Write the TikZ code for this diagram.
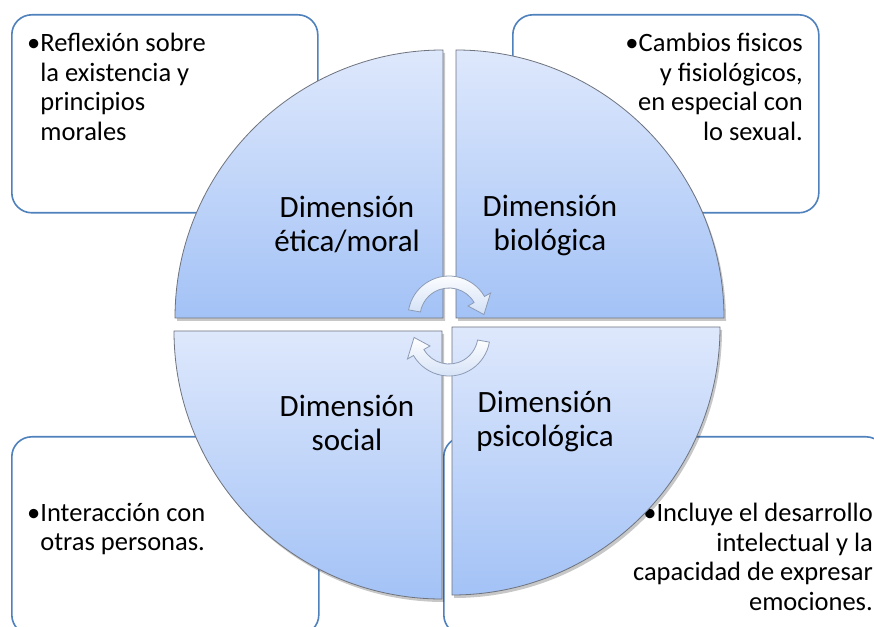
\documentclass[tikz,border=0pt]{standalone}
\usepackage{fontspec}
\setmainfont{Carlito}
\usepackage{tikz}
\usetikzlibrary{positioning, calc}
\definecolor{boxline}{RGB}{79,129,189}
\definecolor{quadtop}{RGB}{222,232,252}
\definecolor{quadbottom}{RGB}{163,194,246}
\definecolor{quadline}{RGB}{110,115,125}
\definecolor{arrowfill}{RGB}{210,224,246}
\definecolor{arrowline}{RGB}{140,155,180}
\tikzset{
    infobox/.style={
        rectangle,
        draw=boxline,
        line width=1.6pt,
        rounded corners=20pt,
        fill=white,
        inner sep=0pt
    },
    boxtext/.style={
        font=\fontsize{26.5}{29.5}\selectfont,
        inner sep=0pt
    },
    dimlabel/.style={
        font=\fontsize{31}{34}\selectfont,
        align=center,
        inner sep=0pt
    },
    quadrant/.style={
        top color=quadtop,
        bottom color=quadbottom,
        draw=quadline,
        line width=0.8pt
    },
    quadshadow/.style={
        fill=black,
        opacity=0.22
    },
    cyclearrow/.style={
        top color=white,
        bottom color=arrowfill,
        draw=arrowline,
        line width=0.8pt
    }
}

\begin{document}
\begin{tikzpicture}[x=1pt, y=1pt]

\clip (0,0) rectangle (874,626);
\fill[white] (0,0) rectangle (874,626);

% Boxes
\node[infobox, anchor=north west, minimum width=306pt, minimum height=198pt] (ethbox) at (11,612) {};
\node[infobox, anchor=north west, minimum width=306pt, minimum height=198pt] (biobox) at (512,612) {};
\node[infobox, anchor=north west, minimum width=307pt, minimum height=198pt] (socbox) at (11,190) {};
\node[infobox, anchor=north west, minimum width=442pt, minimum height=198pt] (psibox) at (443,190) {};

% Box texts
\node[boxtext, align=left, anchor=north west] (ethtext) at (27,593)
    {•Reflexión sobre\\\phantom{•}la existencia y\\\phantom{•}principios\\\phantom{•}morales};
\node[boxtext, align=right, anchor=north east] (biotext) at (803,593)
    {•Cambios fisicos\\y fisiológicos,\\en especial con\\lo sexual.};
\node[boxtext, align=left, anchor=north west] (soctext) at (27,123)
    {•Interacción con\\\phantom{•}otras personas.};
\node[boxtext, align=right, anchor=north east] (psitext) at (873,123)
    {•Incluye el desarrollo\\intelectual y la\\capacidad de expresar\\emociones.};

% Shadows
\fill[quadshadow] (445,305) -- (177,305) arc[start angle=180, end angle=90, radius=268] -- cycle;
\fill[quadshadow] (458,305) -- (458,573) arc[start angle=90, end angle=0, radius=268] -- cycle;
\fill[quadshadow] (444,292) -- (176,292) arc[start angle=180, end angle=270, radius=268] -- cycle;
\fill[quadshadow] (454,296) -- (722,296) arc[start angle=0, end angle=-90, radius=268] -- cycle;

% Quadrants
\draw[quadrant] (443,308) -- (175,308) arc[start angle=180, end angle=90, radius=268] -- cycle;
\draw[quadrant] (456,308) -- (456,576) arc[start angle=90, end angle=0, radius=268] -- cycle;
\draw[quadrant] (442,295) -- (174,295) arc[start angle=180, end angle=270, radius=268] -- cycle;
\draw[quadrant] (452,299) -- (720,299) arc[start angle=0, end angle=-90, radius=268] -- cycle;

% Quadrant labels
\node[dimlabel] (ethlabel) at (347,402) {Dimensión\\ética/moral};
\node[dimlabel] (biolabel) at (550,400.5) {Dimensión\\biológica};
\node[dimlabel] (soclabel) at (347,203.5) {Dimensión\\social};
\node[dimlabel] (psilabel) at (545,204) {Dimensión\\psicológica};

% Cycle arrows
\begin{scope}[shift={(449,309)}]
\draw[cyclearrow] (170:41) arc[start angle=170, end angle=30, radius=41]
    -- (30:48) -- (4:35) -- (30:22) -- (30:29)
    arc[start angle=30, end angle=170, radius=29] -- cycle;
\end{scope}
\begin{scope}[shift={(449,291)}, rotate=180]
\draw[cyclearrow] (170:41) arc[start angle=170, end angle=30, radius=41]
    -- (30:48) -- (4:35) -- (30:22) -- (30:29)
    arc[start angle=30, end angle=170, radius=29] -- cycle;
\end{scope}

\end{tikzpicture}
\end{document}
